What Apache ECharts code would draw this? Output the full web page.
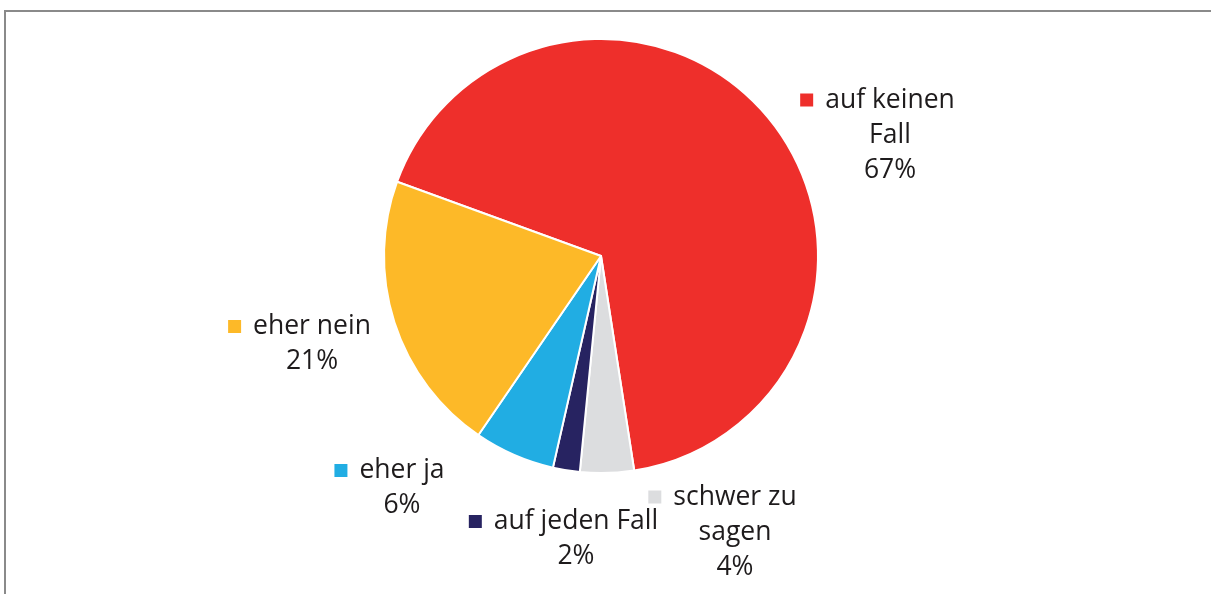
<!DOCTYPE html>
<html>
<head>
<meta charset="utf-8">
<script src="https://cdn.jsdelivr.net/npm/echarts@6/dist/echarts.min.js"></script>
<style>
  html, body { margin: 0; padding: 0; background: #fff; }
  .frame {
    position: absolute; left: 4px; top: 10px; right: 0; bottom: 0;
    border-left: 2px solid #8a8a8a; border-top: 2px solid #8a8a8a;
  }
  #chart { position: absolute; left: 0; top: 0; width: 1211px; height: 594px; }
</style>
</head>
<body>
<div class="frame"></div>
<div id="chart"></div>
<script>
  // Antworten (Reihenfolge im Uhrzeigersinn)
  var names = ['auf keinen\nFall', 'schwer zu\nsagen', 'auf jeden Fall', 'eher ja', 'eher nein'];
  var values = [67, 4, 2, 6, 21];
  var colors = ['#ee2f2b', '#dcdddf', '#272361', '#21ade3', '#fdb928'];

  // Lage der Beschriftungen (Mitte des Textblocks)
  var labelPos = [[890, 135], [735, 532], [576, 539], [402, 488], [312, 344]];

  var myChart = echarts.init(document.getElementById('chart'));
  myChart.setOption({
    animation: false,
    textStyle: { fontFamily: 'Open Sans' },
    series: [{
      type: 'pie',
      center: [601, 256],
      radius: 217,
      startAngle: 160,
      clockwise: true,
      avoidLabelOverlap: false,
      itemStyle: { borderColor: '#fff', borderWidth: 2 },
      labelLine: { show: false },
      label: {
        show: true,
        position: 'outside',
        color: '#1e1b1c',
        fontSize: 26.5,
        lineHeight: 35,
        formatter: function (p) {
          var lines = p.name.split('\n');
          lines[0] = '{sq|\u00a0}{gap|\u00a0}' + lines[0] + '{pad|\u00a0}';
          return lines.join('\n') + '\n' + p.value + '%';
        }
      },
      labelLayout: function (params) {
        var pos = labelPos[params.dataIndex];
        return { x: pos[0], y: pos[1], align: 'center', verticalAlign: 'middle' };
      },
      data: names.map(function (n, i) {
        return {
          name: n,
          value: values[i],
          itemStyle: { color: colors[i] },
          label: {
            rich: {
              sq: { width: 13, height: 13, backgroundColor: colors[i] },
              gap: { width: 12 },
              pad: { width: 25 }
            }
          }
        };
      })
    }]
  });
</script>
</body>
</html>
